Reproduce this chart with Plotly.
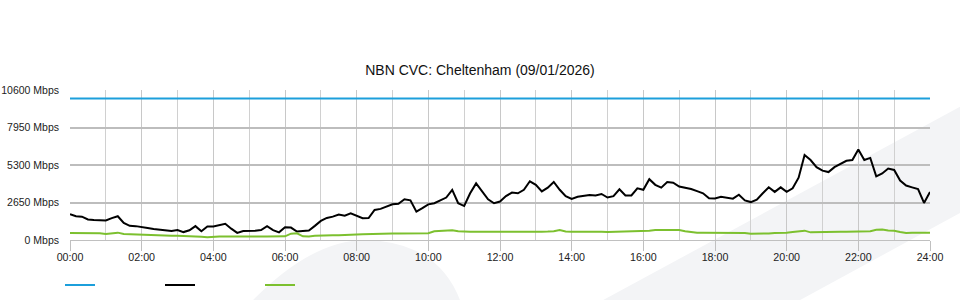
import plotly.graph_objects as go

# ---- data (Mbps), 10-minute samples from 00:00 to 24:00 ----
hours = [i / 6 for i in range(145)]
x_tick_vals = [0, 2, 4, 6, 8, 10, 12, 14, 16, 18, 20, 22, 24]
x_tick_text = ["00:00", "02:00", "04:00", "06:00", "08:00", "10:00", "12:00",
               "14:00", "16:00", "18:00", "20:00", "22:00", "24:00"]
y_tick_vals = [0, 2650, 5300, 7950, 10600]
y_tick_text = ["0 Mbps", "2650 Mbps", "5300 Mbps", "7950 Mbps", "10600 Mbps"]

capacity_x = [0, 24]
capacity = [10000, 10000]

download = [
    1820, 1680, 1650, 1450, 1420, 1380,
    1380, 1550, 1680, 1200, 1000, 980,
    940, 850, 780, 720, 650, 640,
    700, 560, 690, 980, 620, 950,
    950, 1050, 1150, 800, 500, 640,
    640, 650, 700, 980, 700, 540,
    900, 880, 600, 660, 670, 1000,
    1350, 1560, 1650, 1800, 1720, 1880,
    1700, 1540, 1550, 2120, 2200, 2380,
    2520, 2560, 2880, 2800, 2000, 2250,
    2520, 2600, 2800, 3000, 3540, 2600,
    2400, 3300, 4000, 3400, 2880, 2600,
    2720, 3100, 3350, 3300, 3550, 4150,
    3900, 3430, 3700, 4100, 3550, 3100,
    2900, 3050, 3100, 3180, 3150, 3250,
    3000, 3100, 3580, 3150, 3150, 3650,
    3550, 4300, 3900, 3700, 4100, 4050,
    3780, 3700, 3600, 3450, 3300, 2950,
    2930, 3050, 3000, 2920, 3200, 2800,
    2680, 2850, 3300, 3730, 3400, 3720,
    3400, 3650, 4400, 6000, 5650, 5150,
    4900, 4800, 5150, 5350, 5600, 5650,
    6400, 5650, 5800, 4500, 4700, 5050,
    4950, 4200, 3850, 3720, 3600, 2620,
    3400,
]

upload = [
    500, 500, 490, 490, 490, 480,
    430, 460, 520, 420, 400, 390,
    370, 360, 350, 330, 330, 300,
    300, 290, 270, 260, 230, 190,
    240, 250, 250, 240, 240, 240,
    240, 240, 240, 240, 240, 240,
    260, 450, 470, 260, 240, 300,
    330, 340, 340, 340, 340, 350,
    380, 400, 420, 440, 440, 450,
    460, 460, 460, 460, 470, 470,
    480, 620, 640, 650, 690, 620,
    590, 580, 590, 580, 590, 580,
    580, 590, 580, 590, 580, 590,
    590, 590, 600, 620, 700, 600,
    580, 590, 590, 590, 590, 580,
    570, 580, 600, 580, 590, 600,
    620, 660, 700, 700, 700, 680,
    700, 620, 560, 520, 520, 520,
    520, 520, 520, 520, 500, 500,
    440, 430, 430, 460, 500, 500,
    520, 570, 600, 660, 540, 560,
    580, 590, 590, 590, 590, 590,
    590, 600, 620, 720, 740, 670,
    650, 560, 500, 520, 520, 520,
    520,
]

BLUE = "#1c9fdb"
BLACK = "#000000"
GREEN = "#7cc02f"
FONT = "Liberation Sans, Arial, sans-serif"

fig = go.Figure()
fig.add_trace(go.Scatter(x=capacity_x, y=capacity, mode="lines", name=" ",
                         line=dict(color=BLUE, width=2)))
fig.add_trace(go.Scatter(x=hours, y=download, mode="lines", name=" ",
                         line=dict(color=BLACK, width=2)))
fig.add_trace(go.Scatter(x=hours, y=upload, mode="lines", name=" ",
                         line=dict(color=GREEN, width=2)))

# faint watermark swoosh in the background
wm = "#f3f4f6"
fig.add_shape(type="path", xref="paper", yref="paper", layer="below",
              path="M 0.6198 -0.4008 L 1.0349 0.8884 L 1.0349 0.1804 L 0.8488 -0.4008 Z",
              fillcolor=wm, line=dict(width=0))
fig.add_shape(type="path", xref="paper", yref="paper", layer="below",
              path="M 0.2128 -0.4008 Q 0.2907 0.0534 0.3605 -0.0067 Q 0.4302 -0.0534 0.4535 -0.4008 Z",
              fillcolor=wm, line=dict(width=0))

fig.update_layout(
    width=960, height=300,
    margin=dict(l=70, r=30, t=90, b=60),
    paper_bgcolor="white",
    plot_bgcolor="rgba(0,0,0,0)",
    font=dict(family=FONT, size=11, color="#222"),
    title=dict(text="NBN CVC: Cheltenham (09/01/2026)", x=0.5, xref="container",
               y=1 - 70 / 300, yref="container", yanchor="middle",
               font=dict(family=FONT, size=14, color="#111")),
    showlegend=True,
    legend=dict(orientation="h", x=60 / 960, xref="container", xanchor="left",
                y=15 / 300, yref="container", yanchor="middle",
                entrywidth=55, entrywidthmode="pixels",
                bgcolor="rgba(0,0,0,0)", font=dict(size=1)),
    xaxis=dict(range=[0, 24], tickvals=x_tick_vals, ticktext=x_tick_text,
               showgrid=True, gridcolor="#c8c8c8", gridwidth=1,
               minor=dict(dtick=1, tick0=0, showgrid=True, gridcolor="#d0d0d0",
                          gridwidth=1, ticks=""),
               ticks="outside", ticklen=10, tickcolor="#c0c0c0", tickwidth=1,
               showline=True, linecolor="#c0c0c0", linewidth=1,
               zeroline=False, fixedrange=True, automargin=False,
               ticklabelstandoff=-3,
               tickfont=dict(family=FONT, size=10.7, color="#222")),
    yaxis=dict(range=[0, 10600], tickvals=y_tick_vals, ticktext=y_tick_text,
               showgrid=True, gridcolor="#bdbdbd", gridwidth=1.5,
               zeroline=False, showline=False, ticks="",
               ticklabelstandoff=10, fixedrange=True, automargin=False,
               tickfont=dict(family=FONT, size=10.5, color="#222")),
)

fig.write_html("out.html")
